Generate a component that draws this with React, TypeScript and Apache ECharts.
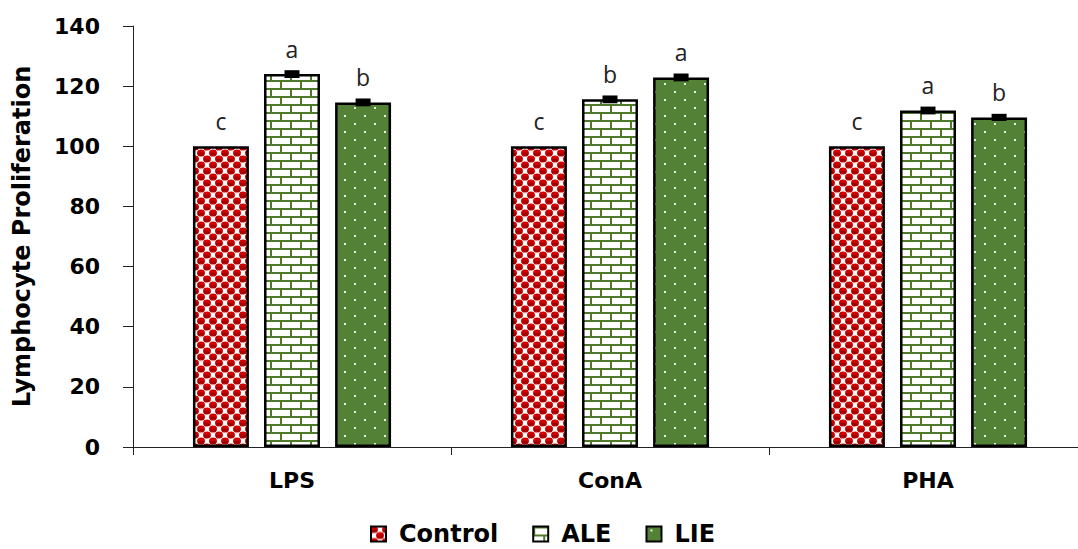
import React, { useEffect, useRef } from "react";
import * as echarts from "echarts";

const categories = ["LPS", "ConA", "PHA"];
const seriesNames = ["Control", "ALE", "LIE"];
const controlValues = [100, 100, 100];
const aleValues = [124.0, 115.6, 111.9];
const lieValues = [114.6, 122.9, 109.6];
const controlErr = [0, 0, 0];
const aleErr = [1.3, 1.3, 1.3];
const lieErr = [1.3, 1.3, 1.2];
const controlLetters = ["c", "c", "c"];
const aleLetters = ["a", "b", "a"];
const lieLetters = ["b", "a", "b"];
const yTicks = [0, 20, 40, 60, 80, 100, 120, 140];

function makeControlPattern() {
  const c = document.createElement("canvas");
  c.width = 12;
  c.height = 12;
  const g = c.getContext("2d")!;
  g.fillStyle = "#ffffff";
  g.fillRect(0, 0, 12, 12);
  g.fillStyle = "#d00000";
  const blobs = [
    [3, 3],
    [9, 9],
    [-3, 9],
    [15, 3],
    [3, 15],
    [9, -3],
    [-3, -3],
    [15, 15],
  ];
  for (const [x, y] of blobs) {
    g.beginPath();
    g.ellipse(x, y, 4.0, 3.6, 0, 0, Math.PI * 2);
    g.fill();
  }
  g.fillStyle = "#a00000";
  for (const [x, y] of blobs) {
    g.beginPath();
    g.ellipse(x, y + 1.2, 3.0, 1.5, 0, 0, Math.PI * 2);
    g.fill();
  }
  return c;
}

function makeAlePattern() {
  const c = document.createElement("canvas");
  c.width = 20;
  c.height = 16;
  const g = c.getContext("2d")!;
  g.fillStyle = "#ffffff";
  g.fillRect(0, 0, 20, 16);
  g.fillStyle = "#4f7a2a";
  g.fillRect(0, 0, 20, 2);
  g.fillRect(0, 8, 20, 2);
  g.fillRect(0, 0, 2, 8);
  g.fillRect(10, 8, 2, 8);
  return c;
}

function makeLiePattern() {
  const c = document.createElement("canvas");
  c.width = 20;
  c.height = 16;
  const g = c.getContext("2d")!;
  g.fillStyle = "#538135";
  g.fillRect(0, 0, 20, 16);
  g.fillStyle = "#e8f0e0";
  g.fillRect(4, 3, 2, 2);
  g.fillRect(14, 11, 2, 2);
  return c;
}

export default function App() {
  const ref = useRef<HTMLDivElement>(null);
  useEffect(() => {
    if (!ref.current) return;
    const chart = echarts.init(ref.current, null, { renderer: "svg" });
    const patterns = [
      { image: makeControlPattern(), repeat: "repeat" },
      { image: makeAlePattern(), repeat: "repeat" },
      { image: makeLiePattern(), repeat: "repeat" },
    ];
    const values = [controlValues, aleValues, lieValues];
    const errs = [controlErr, aleErr, lieErr];
    const letters = [controlLetters, aleLetters, lieLetters];

    const barSeries = seriesNames.map((name, si) => ({
      name,
      type: "bar",
      data: values[si],
      barWidth: "17.6%",
      barGap: "27%",
      itemStyle: {
        color: patterns[si] as any,
        borderColor: "#000",
        borderWidth: 2.5,
      },
      label: {
        show: true,
        position: "top",
        distance: 14,
        formatter: (p: any) => letters[si][p.dataIndex],
        fontFamily: "Open Sans",
        fontSize: 23,
        color: "#222",
      },
    }));

    const errData: number[][] = [];
    for (let si = 0; si < 3; si++) {
      for (let ci = 0; ci < categories.length; ci++) {
        if (errs[si][ci] > 0) errData.push([ci, values[si][ci], errs[si][ci], si]);
      }
    }

    const option: any = {
      animation: false,
      grid: { left: 133, top: 26, width: 954, height: 421 },
      legend: {
        data: seriesNames,
        left: 365,
        top: 517,
        icon: "rect",
        itemWidth: 15,
        itemHeight: 15,
        itemGap: 34,
        textStyle: {
          fontFamily: "DejaVu Sans",
          fontWeight: "bold",
          fontSize: 24,
          lineHeight: 24,
          color: "#000",
          padding: [0, 0, 0, 8],
        },
      },
      xAxis: {
        type: "category",
        data: categories,
        axisLine: { lineStyle: { color: "#222", width: 1 } },
        axisTick: { show: true, length: 8, lineStyle: { color: "#222" } },
        axisLabel: {
          margin: 22,
          fontFamily: "DejaVu Sans",
          fontWeight: "bold",
          fontSize: 22,
          color: "#000",
        },
      },
      yAxis: {
        type: "value",
        min: yTicks[0],
        max: yTicks[yTicks.length - 1],
        interval: 20,
        name: "Lymphocyte Proliferation",
        nameLocation: "middle",
        nameGap: 99,
        nameTextStyle: {
          fontFamily: "DejaVu Sans",
          fontWeight: "bold",
          fontSize: 24,
          color: "#000",
        },
        splitLine: { show: false },
        axisLine: { show: true, lineStyle: { color: "#222", width: 1 } },
        axisTick: { show: true, length: 10, lineStyle: { color: "#222" } },
        axisLabel: {
          margin: 33,
          fontFamily: "DejaVu Sans",
          fontWeight: "bold",
          fontSize: 22,
          color: "#000",
        },
      },
      series: [
        ...barSeries,
        {
          type: "custom",
          name: "err",
          z: 5,
          data: errData,
          encode: { x: 0, y: 1 },
          renderItem: (params: any, api: any) => {
            const ci = api.value(0);
            const v = api.value(1);
            const e = api.value(2);
            const si = api.value(3);
            const catW = api.size([1, 0])[0];
            const bw = catW * 0.176;
            const gap = bw * 0.27;
            const c = api.coord([ci, v]);
            const x = c[0] + (si - 1) * (bw + gap);
            const top = api.coord([ci, v + e])[1];
            const bot = api.coord([ci, v - e])[1];
            return {
              type: "rect",
              shape: { x: x - 7.5, y: top, width: 15, height: bot - top },
              style: { fill: "#000" },
            };
          },
        },
      ],
    };
    chart.setOption(option);
    return () => chart.dispose();
  }, []);
  return (
    <div style={{ position: "fixed", left: 0, top: 0, width: 1078, height: 549, overflow: "hidden", background: "#fff" }}>
      <div ref={ref} style={{ position: "absolute", left: 0, top: 0, width: 1090, height: 549 }} />
    </div>
  );
}
